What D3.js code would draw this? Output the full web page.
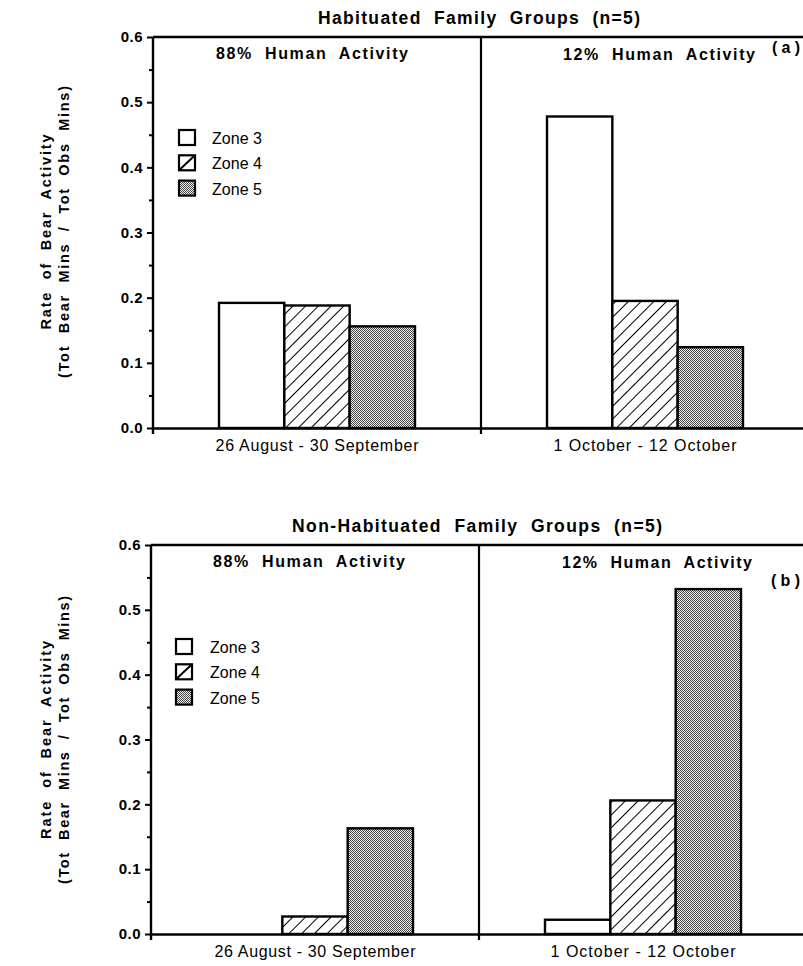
<!DOCTYPE html>
<html><head><meta charset="utf-8">
<script src="https://cdn.jsdelivr.net/npm/d3@7"></script>
<style>
body{margin:0;background:#fff}
text{font-family:"Liberation Sans",Arial,Helvetica,sans-serif;fill:#000;white-space:pre}
</style>
</head><body><svg id="c" width="803" height="966" xmlns="http://www.w3.org/2000/svg"></svg>
<script>
const zones = ["Zone 3","Zone 4","Zone 5"];
const periods = ["26 August - 30 September","1 October - 12 October"];
const activityLabels = ["88%  Human  Activity","12%  Human  Activity"];
const panelTitles = ["Habituated  Family  Groups  (n=5)","Non-Habituated  Family  Groups  (n=5)"];
const panelTags = ["( a )","( b )"];
const habituated = [[0.192,0.188,0.156],[0.478,0.195,0.124]];
const nonHabituated = [[0,0.027,0.163],[0.022,0.206,0.532]];
const yTicks = [0,0.1,0.2,0.3,0.4,0.5,0.6];
const yMinorTicks = [0.05,0.15,0.25,0.35,0.45,0.55];
const yLabel1 = "Rate  of  Bear  Activity";
const yLabel2 = "(Tot  Bear  Mins  /  Tot  Obs  Mins)";

const W = 803;
const svg = d3.select("#c");
const defs = svg.append("defs");
// hatch pattern
const hp = defs.append("pattern").attr("id","hatch").attr("patternUnits","userSpaceOnUse")
  .attr("width",9).attr("height",9).attr("patternTransform","rotate(45)");
hp.append("rect").attr("width",9).attr("height",9).attr("fill","#fff");
hp.append("line").attr("x1",0).attr("y1",-1).attr("x2",0).attr("y2",10).attr("stroke","#000").attr("stroke-width",2);
// stipple pattern
const sp = defs.append("pattern").attr("id","stip").attr("patternUnits","userSpaceOnUse")
  .attr("width",2).attr("height",2);
sp.append("rect").attr("width",2).attr("height",2).attr("fill","#f2f2f2");
sp.append("rect").attr("x",0).attr("y",0).attr("width",1).attr("height",1).attr("fill","#444");
sp.append("rect").attr("x",1).attr("y",1).attr("width",1).attr("height",1).attr("fill","#444");
const fills = ["#fff","url(#hatch)","url(#stip)"];

const panels = [
  {data: habituated, top:37, bottom:428, left:153,
   title:{x:479,y:24,len:322}, act:[{x:216,y:59,len:192},{x:563,y:60,len:192}],
   tag:{x:772,y:53,len:28}, legend:{x:179,y:130,tx:212},
   ylab:{cy:232,x1:51,l1:195,x2:69,l2:292}, xlab:{dy:23,lens:[203,183]}},
  {data: nonHabituated, top:545, bottom:934, left:151,
   title:{x:477,y:532,len:370}, act:[{x:213,y:567,len:192},{x:562,y:568,len:190}],
   tag:{x:771,y:586,len:29}, legend:{x:176,y:639,tx:210},
   ylab:{cy:740,x1:51,l1:198,x2:69,l2:288}, xlab:{dy:23,lens:[201,185]}}
];

panels.forEach((p,pi)=>{
  const g = svg.append("g");
  const y = d3.scaleLinear().domain([0,0.6]).range([p.bottom,p.top]);
  const x = d3.scaleBand().domain(periods).range([p.left,p.left+656]);
  const xs = d3.scaleBand().domain(zones).range([-98,98]);

  // bars
  periods.forEach((per,gi)=>{
    const cx = x(per) + x.bandwidth()/2;
    g.append("g").selectAll("rect").data(zones.map((z,zi)=>({z,zi,v:p.data[gi][zi]})).filter(d=>d.v>0))
      .join("rect")
      .attr("x",d=>cx+xs(d.z)).attr("width",xs.bandwidth())
      .attr("y",d=>y(d.v)).attr("height",d=>y(0)-y(d.v))
      .attr("fill",d=>fills[d.zi]).attr("stroke","#000").attr("stroke-width",2.4);
  });

  // y axis major
  const ya = g.append("g").attr("transform",`translate(${p.left},0)`)
    .call(d3.axisLeft(y).tickValues(yTicks).tickSize(6).tickSizeOuter(0).tickPadding(4).tickFormat(d3.format(".1f")));
  ya.select(".domain").attr("stroke-width",2.4).attr("d",`M0,${p.top}V${p.bottom+6}`);
  ya.selectAll(".tick line").attr("stroke-width",2);
  ya.selectAll(".tick text").attr("font-size",15).attr("font-weight","bold")
    .style("font-family",'"Liberation Sans",Arial,sans-serif').attr("letter-spacing","0.5px").attr("x",-10);
  const ym = g.append("g").attr("transform",`translate(${p.left},0)`)
    .call(d3.axisLeft(y).tickValues(yMinorTicks).tickSize(4).tickFormat(""));
  ym.select(".domain").remove();
  ym.selectAll(".tick line").attr("stroke-width",2);

  // x axis
  const xa = g.append("g").attr("transform",`translate(0,${p.bottom})`)
    .call(d3.axisBottom(x).tickSize(0).tickSizeOuter(0));
  xa.select(".domain").attr("stroke-width",2.4);
  xa.selectAll(".tick text").attr("font-size",16).attr("y",p.xlab.dy).attr("dy",null)
    .style("font-family",'"Liberation Sans",Arial,sans-serif')
    .attr("textLength",(d,i)=>p.xlab.lens[i]).attr("lengthAdjust","spacing");

  // top border & divider
  g.append("line").attr("x1",p.left).attr("x2",W).attr("y1",p.top).attr("y2",p.top)
    .attr("stroke","#000").attr("stroke-width",2.4);
  const dx = x(periods[1]);
  g.append("line").attr("x1",dx).attr("x2",dx).attr("y1",p.top).attr("y2",p.bottom+6)
    .attr("stroke","#000").attr("stroke-width",2.2);

  // titles
  g.append("text").attr("x",p.title.x).attr("y",p.title.y).attr("text-anchor","middle")
    .attr("font-size",17.5).attr("font-weight","bold").attr("textLength",p.title.len).attr("lengthAdjust","spacing")
    .text(panelTitles[pi]);
  activityLabels.forEach((t,i)=>{
    g.append("text").attr("x",p.act[i].x).attr("y",p.act[i].y)
      .attr("font-size",16).attr("font-weight","bold").attr("textLength",p.act[i].len).attr("lengthAdjust","spacing")
      .text(t);
  });
  g.append("text").attr("x",p.tag.x).attr("y",p.tag.y).attr("font-size",16).attr("font-weight","bold")
    .attr("textLength",p.tag.len).attr("lengthAdjust","spacing").text(panelTags[pi]);

  // y labels
  [[yLabel1,p.ylab.x1,p.ylab.l1],[yLabel2,p.ylab.x2,p.ylab.l2]].forEach(([t,xx,len])=>{
    g.append("text").attr("transform",`translate(${xx},${p.ylab.cy}) rotate(-90)`)
      .attr("text-anchor","middle").attr("font-size",14.5).attr("font-weight","bold")
      .attr("textLength",len).attr("lengthAdjust","spacing").text(t);
  });

  // legend
  zones.forEach((z,zi)=>{
    const ly = p.legend.y + zi*25.3;
    g.append("rect").attr("x",p.legend.x).attr("y",ly).attr("width",16).attr("height",15)
      .attr("fill",zi===2?"url(#stip)":"#fff").attr("stroke","#000").attr("stroke-width",2.2);
    if(zi===1){
      g.append("line").attr("x1",p.legend.x).attr("y1",ly+15).attr("x2",p.legend.x+16).attr("y2",ly)
        .attr("stroke","#000").attr("stroke-width",2);
    }
    g.append("text").attr("x",p.legend.tx).attr("y",ly+14).attr("font-size",16)
      .attr("textLength",50).attr("lengthAdjust","spacing").text(z);
  });
});
</script>
</body></html>
